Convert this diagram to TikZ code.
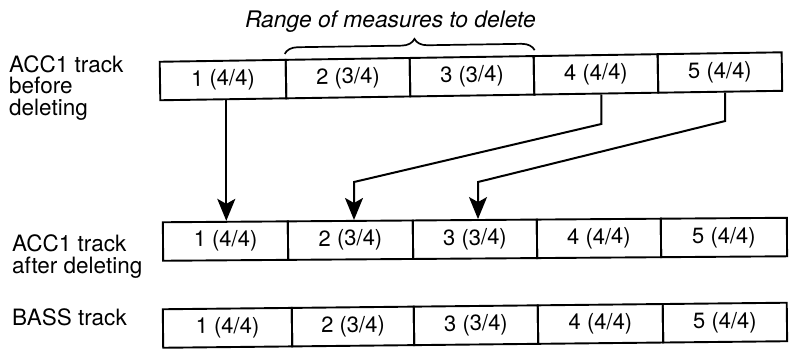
\documentclass[tikz,border=0pt]{standalone}
\usepackage{fontspec}
\setmainfont{TeX Gyre Heros}
\usetikzlibrary{arrows.meta,decorations.pathreplacing,calc}
\begin{document}
\begin{tikzpicture}[x=1pt,y=-1pt,
  txt/.style={font=\fontsize{22}{22}\selectfont},
  lbl/.style={inner sep=0pt, anchor=base west},
  cell/.style={draw, line width=1.9pt, minimum height=38.5pt, inner sep=0pt, txt, minimum width=#1},
  arr/.style={line width=2pt, -{Stealth[length=22pt,width=18pt,inset=5pt]}}]
\fill[white] (0,0) rectangle (789,349);
\useasboundingbox (0,0) rectangle (789,349);

% title
\node[font=\fontsize{22.8}{22.8}\selectfont\itshape, inner sep=0pt, anchor=base west] (title) at (245,27) {Range of measures to delete};

% labels (anchored at the baseline of their last line)
\node[lbl, font=\fontsize{22.5}{21.5}\selectfont] (lab1) at (9,115)
  {\vbox{\hbox{ACC1 track}\hbox{before}\hbox{deleting}}};
\node[lbl, font=\fontsize{22.5}{22}\selectfont] (lab2) at (12,273)
  {\vbox{\hbox{ACC1 track}\hbox{after deleting}}};
\node[lbl, font=\fontsize{22.5}{22.5}\selectfont] (lab3) at (12,325) {BASS track};

% top row (before deleting)
\begin{scope}[shift={(160,81)}, rotate=0.87, transform shape]
  \node[cell=126pt] (t1) at (63,0) {1 (4/4)};
  \node[cell=124pt] (t2) at (188,0) {2 (3/4)};
  \node[cell=124pt] (t3) at (312,0) {3 (3/4)};
  \node[cell=124pt] (t4) at (436,0) {4 (4/4)};
  \node[cell=124pt] (t5) at (560,0) {5 (4/4)};
\end{scope}

% middle row (after deleting)
\begin{scope}[shift={(163,241.5)}, rotate=0.41, transform shape]
  \node[cell=125pt] (m1) at (62.5,0) {1 (4/4)};
  \node[cell=125pt] (m2) at (187.5,0) {2 (3/4)};
  \node[cell=124pt] (m3) at (312,0) {3 (3/4)};
  \node[cell=124pt] (m4) at (436,0) {4 (4/4)};
  \node[cell=126pt] (m5) at (561,0) {5 (4/4)};
\end{scope}

% bottom row (bass)
\begin{scope}[shift={(163,328.5)}, rotate=0.6, transform shape]
  \node[cell=129pt] (b1) at (64.5,0) {1 (4/4)};
  \node[cell=122pt] (b2) at (190,0) {2 (3/4)};
  \node[cell=124pt] (b3) at (313,0) {3 (3/4)};
  \node[cell=125pt] (b4) at (437.5,0) {4 (4/4)};
  \node[cell=124pt] (b5) at (562,0) {5 (4/4)};
\end{scope}

% brace over measures 2-3
\draw[line width=1.7pt, decorate, decoration={brace, amplitude=13pt, aspect=0.52}]
  ([yshift=5pt]t2.north west) -- ([yshift=5pt]t3.north east);

% arrows
\draw[arr] ([xshift=3pt]t1.south) -- ([xshift=3pt]t1.south |- m1.north);

\coordinate (a2) at ([xshift=5pt]t4.south |- 0,124);
\coordinate (c2) at (354,182);
\draw[arr] ([xshift=5pt]t4.south) -- (a2) -- (c2) -- (c2 |- m2.north);

\coordinate (a3) at ([xshift=5pt]t5.south |- 0,121);
\coordinate (c3) at (478,182);
\draw[arr] ([xshift=5pt]t5.south) -- (a3) -- (c3) -- (c3 |- m3.north);
\end{tikzpicture}
\end{document}
